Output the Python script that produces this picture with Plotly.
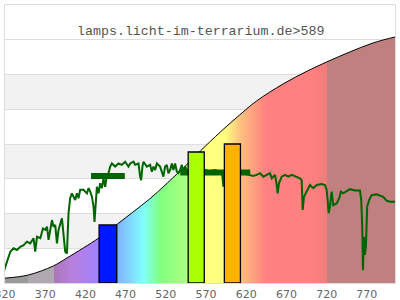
import plotly.graph_objects as go

# ---------------- data ----------------
# smooth sensitivity curve (area with wavelength colour gradient)
area_nm = [320, 349, 380, 397, 437, 460, 479, 500, 522, 548, 563, 588, 612, 633, 666, 696, 720, 749, 778, 805]
area_val = [0.14, 0.23, 0.49, 0.72, 1.30, 1.70, 2.04, 2.42, 2.88, 3.45, 3.80, 4.35, 4.84, 5.24, 5.73, 6.10, 6.36, 6.65, 6.91, 7.08]

# measured spectrum (green line)
spec_nm = [318.0, 322.5, 326.6, 330.7, 334.9, 339.0, 343.1, 347.3, 351.4, 355.5, 357.6, 359.8, 363.9, 367.2,
           370.1, 372.2, 374.2, 376.3, 378.4, 380.4, 382.5, 384.6, 386.6, 390.8, 392.8, 394.9, 397.0, 399.0,
           401.1, 403.2, 405.2, 407.3, 409.4, 411.4, 413.5, 417.6, 421.9, 423.9, 426.0, 428.1, 430.1, 431.3,
           433.4, 434.3, 436.3, 438.4, 440.5, 442.5, 444.6, 446.7, 448.7, 450.8, 452.9, 457.0, 461.1, 465.3,
           469.4, 473.5, 475.7, 479.8, 481.9, 486.0, 488.1, 489.3, 490.9, 492.2, 496.4, 500.5, 502.6, 504.6,
           506.7, 508.8, 512.9, 515.0, 517.0, 519.1, 521.2, 523.2, 525.3, 527.5, 529.4, 531.5, 533.7, 535.7,
           537.8, 539.9, 541.9, 544.0, 546.1, 550.2, 562.6, 568.8, 575.0, 581.3, 587.5, 590.0, 591.6, 592.5,
           612.3, 618.5, 624.8, 628.5, 633.0, 637.1, 641.3, 645.5, 649.6, 651.7, 655.8, 657.9, 659.1, 660.7,
           662.0, 664.1, 668.2, 672.3, 676.5, 682.7, 686.8, 688.9, 690.2, 691.8, 694.3, 697.1, 699.3, 701.4,
           703.4, 707.6, 713.8, 717.9, 720.0, 721.2, 722.5, 724.1, 726.2, 728.2, 732.4, 735.7, 737.8, 740.6,
           744.9, 749.0, 755.2, 761.4, 763.0, 764.3, 765.1, 766.4, 767.6, 768.8, 770.4, 772.9, 775.9, 782.1,
           790.3, 794.5, 798.6, 802.7, 806.0]
spec_val = [0.30, 0.61, 0.90, 1.00, 0.95, 1.04, 1.09, 1.19, 1.14, 1.29, 0.90, 1.33, 1.29, 1.57,
            1.53, 1.62, 1.24, 1.53, 1.81, 1.62, 1.67, 1.14, 1.53, 1.86, 1.43, 0.90, 0.85, 2.01,
            2.45, 2.58, 2.48, 2.39, 2.58, 2.44, 2.68, 2.68, 2.58, 2.73, 2.63, 2.48, 2.20, 1.76,
            2.48, 2.77, 2.58, 2.87, 2.73, 3.01, 2.77, 3.11, 3.16, 3.35, 3.44, 3.35, 3.44, 3.40,
            3.49, 3.35, 3.44, 3.49, 3.40, 3.44, 3.06, 2.96, 3.35, 3.49, 3.35, 3.40, 3.20, 3.35,
            3.25, 3.44, 3.35, 3.16, 3.06, 3.35, 3.40, 3.16, 3.25, 3.44, 3.25, 3.44, 3.20, 3.16,
            3.25, 3.40, 3.16, 3.35, 3.25, 3.22, 3.22, 3.25, 3.22, 3.25, 3.19, 3.14, 2.77, 3.19,
            3.17, 3.14, 3.11, 3.08, 3.11, 3.16, 3.06, 3.11, 3.16, 3.01, 3.11, 2.82, 2.58, 2.87,
            2.96, 3.06, 3.11, 3.06, 3.11, 3.06, 3.01, 2.96, 2.10, 2.48, 2.58, 2.73, 2.82, 2.77,
            2.73, 2.82, 2.85, 2.82, 2.68, 2.39, 2.01, 2.20, 2.63, 2.24, 2.29, 2.44, 2.63, 2.58,
            2.63, 2.70, 2.66, 2.66, 2.39, 1.57, 0.37, 1.33, 0.81, 1.04, 2.20, 2.39, 2.53, 2.55,
            2.48, 2.37, 2.34, 2.34, 2.34]

# band averages (thick dark green segments)
avg_start = [427, 538]
avg_end = [469, 625]
avg_val = [3.08, 3.18]

# highlighted bars
bar_center = [448, 557.8, 602.8]
bar_width = [22, 20, 20]
bar_val = [1.67, 3.77, 4.00]
bar_color = ["#0018ff", "#aaff00", "#ffb300"]

tick_vals = [320, 370, 420, 470, 520, 570, 620, 670, 720, 770]
title_text = "lamps.licht-im-terrarium.de>589"

X0, X1 = 320, 805
def t(nm):
    return (nm - X0) / (X1 - X0)

grad_stops = [
    (320, "#9a9a9a"), (349, "#9a9a9a"), (349, "#b0a8b0"), (381, "#b0a8b0"),
    (381, "#a878b8"), (405, "#b880e0"), (437, "#a080ff"), (459, "#80b0ff"),
    (492, "#80ffff"), (513, "#80ff80"), (548, "#b0ff80"), (567, "#ffff80"),
    (593, "#ffff80"), (613, "#ffc080"), (645, "#ff8080"), (700, "#ff8080"),
    (720, "#f27c7c"), (720, "#c08080"), (805, "#c08080"),
]
colorscale = [[t(nm), c] for nm, c in grad_stops]

fig = go.Figure()

# alternating background bands
for k in [1, 3, 5]:
    fig.add_shape(type="rect", xref="paper", yref="y", x0=0, x1=1, y0=k, y1=k + 1,
                  fillcolor="#f2f2f2", line_width=0, layer="below")

fig.add_trace(go.Scatter(
    x=area_nm, y=area_val, mode="lines", fill="tozeroy",
    line=dict(color="black", width=1, shape="spline"),
    fillgradient=dict(type="horizontal", colorscale=colorscale, start=X0, stop=X1),
    hoverinfo="skip", showlegend=False))

fig.add_trace(go.Scatter(
    x=spec_nm, y=spec_val, mode="lines",
    line=dict(color="#006400", width=2), showlegend=False))

for s, e, v in zip(avg_start, avg_end, avg_val):
    fig.add_trace(go.Scatter(x=[s, e], y=[v, v], mode="lines",
                             line=dict(color="#006400", width=6), showlegend=False))

for c, w, v, col in zip(bar_center, bar_width, bar_val, bar_color):
    l, r = c - w / 2, c + w / 2
    fig.add_trace(go.Scatter(x=[l, l, r, r, l], y=[0, v, v, 0, 0], mode="lines",
                             fill="toself", fillcolor=col,
                             line=dict(color="black", width=1.3), showlegend=False))

fig.add_annotation(text=title_text, xref="paper", yref="paper", x=0.5, y=0.906,
                   xanchor="center", yanchor="middle",
                   showarrow=False, font=dict(family="Liberation Mono", size=13.3, color="#555555"))

fig.update_layout(
    width=400, height=300,
    margin=dict(l=5, r=5, t=5, b=17, autoexpand=False),
    paper_bgcolor="white", plot_bgcolor="white",
    showlegend=False,
)
fig.update_xaxes(range=[X0, X1], tickvals=tick_vals, ticktext=[str(v) for v in tick_vals],
                 automargin=False, ticklabeloverflow="allow", ticklabelstandoff=1,
                 showgrid=False, zeroline=False, showline=True, mirror=True, linecolor="#dddddd",
                 linewidth=1, ticks="", tickfont=dict(family="DejaVu Sans", size=11, color="#666666"))
fig.update_yaxes(range=[0, 8], dtick=1, showticklabels=False, showgrid=True, gridcolor="#dddddd",
                 automargin=False,
                 zeroline=False, showline=True, mirror=True, linecolor="#dddddd", linewidth=1, ticks="")

fig.write_html("out.html")
